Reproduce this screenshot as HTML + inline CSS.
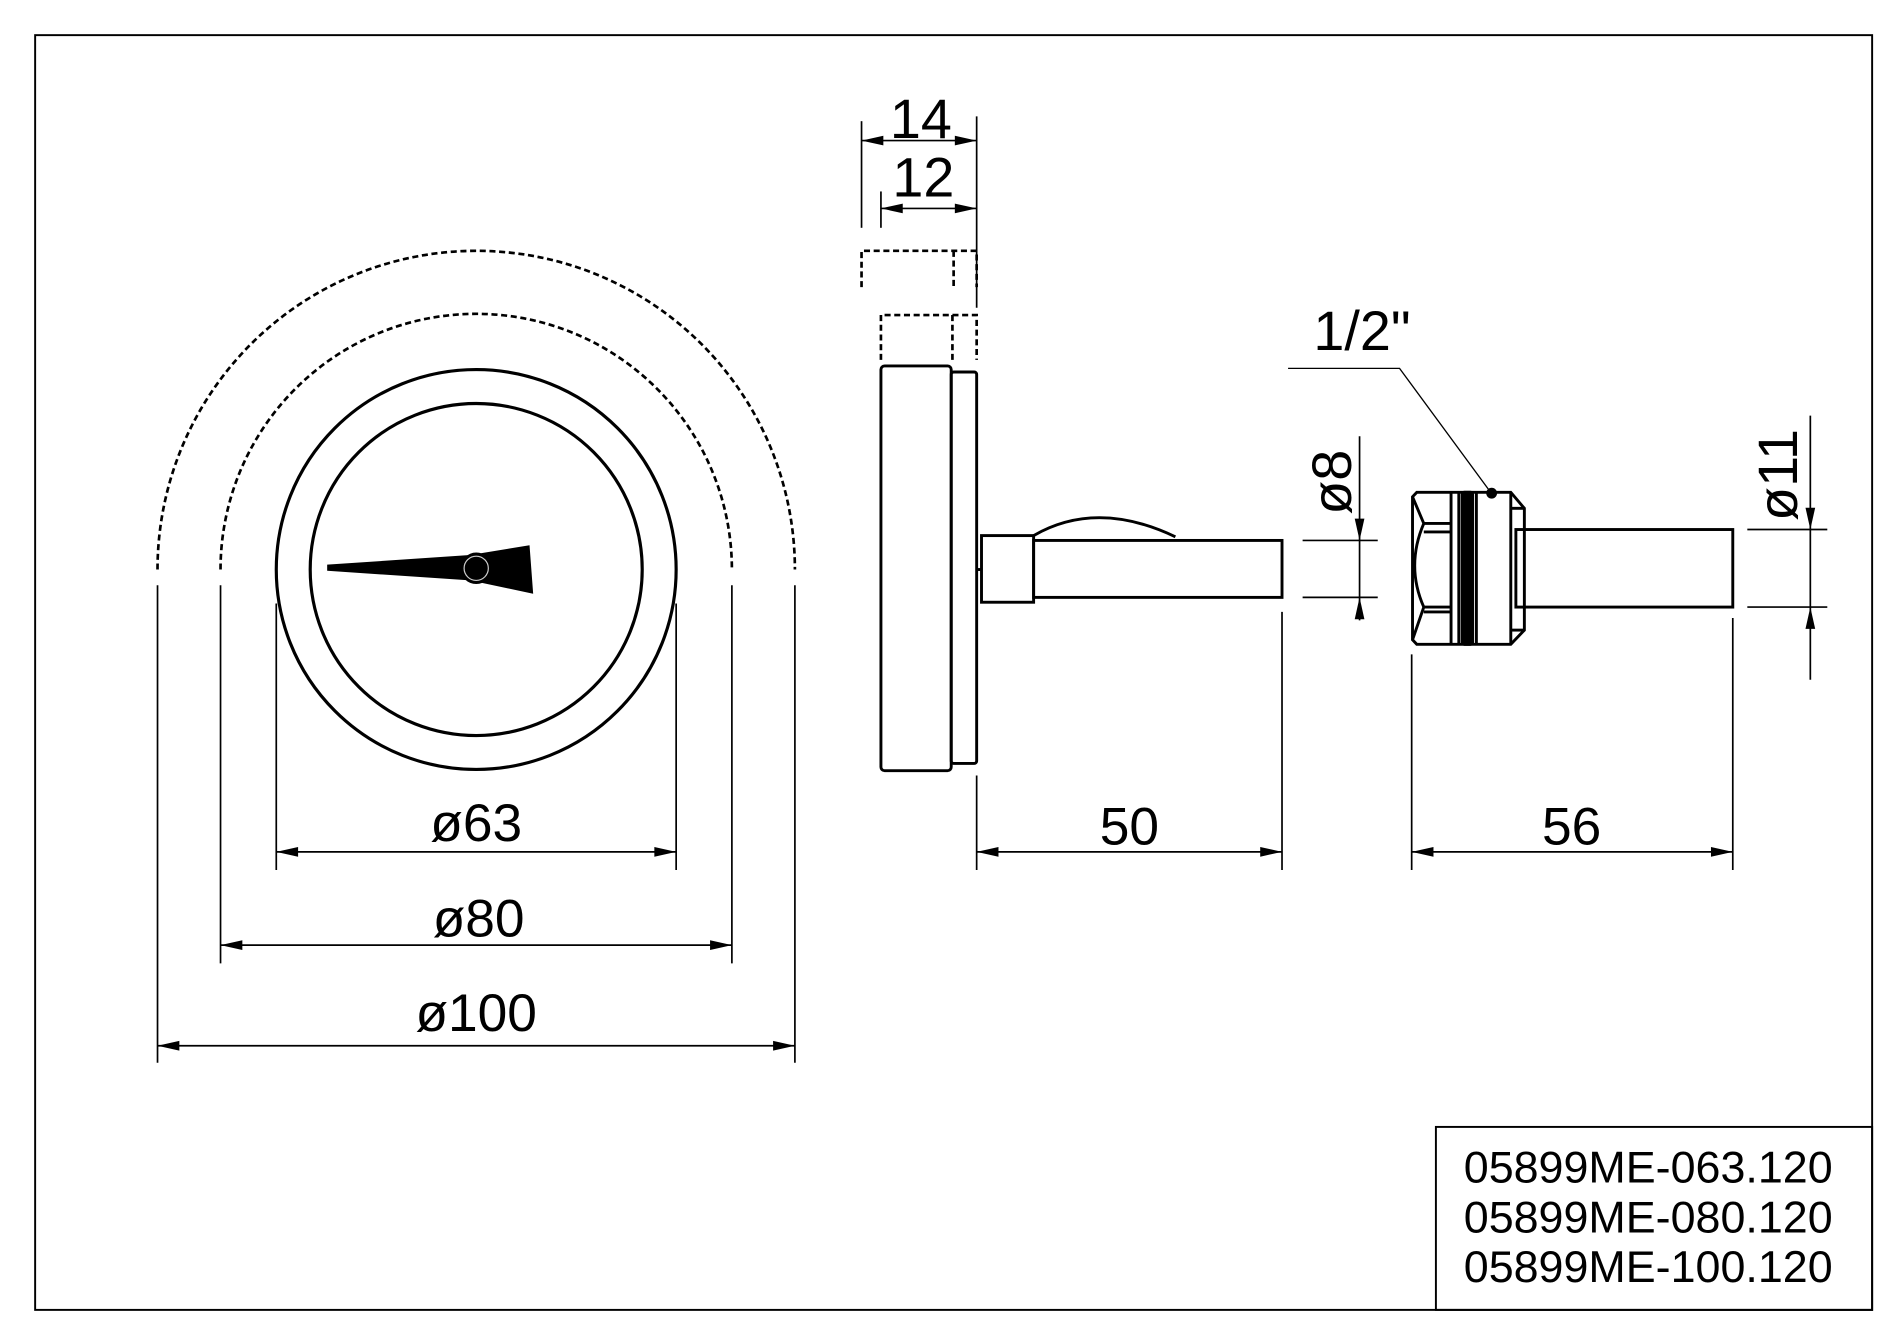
<!DOCTYPE html>
<html><head><meta charset="utf-8"><style>
html,body{margin:0;padding:0;background:#fff}
svg{display:block}
text{font-family:"Liberation Sans",Arial,sans-serif;fill:#000}
</style></head><body>
<svg width="1900" height="1342" viewBox="0 0 1568 1107.5" xmlns="http://www.w3.org/2000/svg">
<rect x="0" y="0" width="1568" height="1107.5" fill="#fff"/>
<g fill="none" stroke="#000">
<rect x="29" y="29" width="1516" height="1052" stroke-width="1.6"/>
<rect x="1185" y="930" width="360" height="151" stroke-width="1.6"/>
<circle cx="393" cy="470" r="165" stroke-width="2.6"/>
<circle cx="393" cy="470" r="137" stroke-width="2.6"/>
<path d="M182,470 A211,211 0 0 1 604,470" stroke-width="2.2" stroke-dasharray="5,3"/>
<path d="M130,470 A263,263 0 0 1 656,470" stroke-width="2.2" stroke-dasharray="5,3"/>
<g stroke-width="1.4">
<line x1="228" y1="498" x2="228" y2="718"/><line x1="558" y1="498" x2="558" y2="718"/>
<line x1="182" y1="483" x2="182" y2="795"/><line x1="604" y1="483" x2="604" y2="795"/>
<line x1="130" y1="483" x2="130" y2="877"/><line x1="656" y1="483" x2="656" y2="877"/>
<line x1="228" y1="703" x2="558" y2="703"/>
<line x1="182" y1="780" x2="604" y2="780"/>
<line x1="130" y1="863" x2="656" y2="863"/>
<line x1="711" y1="100" x2="711" y2="188"/><line x1="806" y1="96" x2="806" y2="254"/>
<line x1="727" y1="158" x2="727" y2="188"/>
<line x1="711" y1="116" x2="806" y2="116"/>
<line x1="727" y1="172" x2="806" y2="172"/>
<line x1="806" y1="640" x2="806" y2="718"/><line x1="1058" y1="505" x2="1058" y2="718"/>
<line x1="806" y1="703" x2="1058" y2="703"/>
<line x1="1165" y1="540" x2="1165" y2="718"/><line x1="1430" y1="510" x2="1430" y2="718"/>
<line x1="1165" y1="703" x2="1430" y2="703"/>
<line x1="1075" y1="446" x2="1137" y2="446"/><line x1="1075" y1="493" x2="1137" y2="493"/>
<line x1="1122" y1="360" x2="1122" y2="512"/>
<line x1="1442" y1="437" x2="1508" y2="437"/><line x1="1442" y1="501" x2="1508" y2="501"/>
<line x1="1494" y1="343" x2="1494" y2="561"/>
<polyline points="1063,304 1155,304 1230,406" stroke-width="1.1"/>
</g>
<g stroke-width="2.2" stroke-dasharray="5,3">
<polyline points="711,237 711,207 806,207 806,237"/>
<line x1="787" y1="207" x2="787" y2="237"/>
<polyline points="727,297 727,260 806,260 806,297"/>
<line x1="786" y1="260" x2="786" y2="297"/>
</g>
<g stroke-width="2.4">
<rect x="727" y="302" width="58" height="334" rx="3"/>
<rect x="785" y="307" width="21" height="323" rx="2"/>
<rect x="810" y="442" width="43" height="55"/>
<rect x="853" y="446" width="205" height="47"/>
<path d="M853,442 Q905,412 970,443"/>
<line x1="806" y1="470" x2="810" y2="470"/>
<path d="M1169.2,406.3 L1246.8,406.3 L1258,419.5 L1258,520 L1246.8,531.7 L1169.2,531.7 L1165.7,528 L1165.7,410 Z"/>
<line x1="1197.5" y1="406" x2="1197.5" y2="532"/>
<line x1="1203.9" y1="406" x2="1203.9" y2="532"/>
<line x1="1218.4" y1="406" x2="1218.4" y2="532"/>
<line x1="1246.8" y1="406" x2="1246.8" y2="532"/>
<line x1="1246.8" y1="419.5" x2="1258" y2="419.5"/>
<line x1="1246.8" y1="520" x2="1258" y2="520"/>
<path d="M1165.7,410 L1175,432 Q1160,467 1175,501 L1165.7,528"/>
<line x1="1175" y1="432" x2="1197.5" y2="432"/><line x1="1175" y1="439" x2="1197.5" y2="439"/>
<line x1="1175" y1="501" x2="1197.5" y2="501"/><line x1="1175" y1="505" x2="1197.5" y2="505"/>
<rect x="1251" y="437" width="179" height="64"/>
</g>
</g>
<rect x="1205.5" y="405" width="11" height="128" rx="3" fill="#000"/>
<circle cx="1231" cy="407" r="4.5" fill="#000"/>
<polygon points="270,466 388,458 437,450 440,490 388,479 270,471" fill="#000"/>
<circle cx="393" cy="469" r="13" fill="#000"/>
<circle cx="393" cy="469" r="10" fill="none" stroke="#ccc" stroke-width="1"/>
<g fill="#000">
<polygon points="228,703 246,699 246,707"/><polygon points="558,703 540,699 540,707"/>
<polygon points="182,780 200,776 200,784"/><polygon points="604,780 586,776 586,784"/>
<polygon points="130,863 148,859 148,867"/><polygon points="656,863 638,859 638,867"/>
<polygon points="711,116 729,112 729,120"/><polygon points="806,116 788,112 788,120"/>
<polygon points="727,172 745,168 745,176"/><polygon points="806,172 788,168 788,176"/>
<polygon points="806,703 824,699 824,707"/><polygon points="1058,703 1040,699 1040,707"/>
<polygon points="1165,703 1183,699 1183,707"/><polygon points="1430,703 1412,699 1412,707"/>
<polygon points="1122,446 1118,428 1126,428"/><polygon points="1122,493 1118,511 1126,511"/>
<polygon points="1494,437 1490,419 1498,419"/><polygon points="1494,501 1490,519 1498,519"/>
</g>
<g font-size="44" text-anchor="middle">
<text x="393" y="694">ø63</text>
<text x="395" y="773">ø80</text>
<text x="393" y="851">ø100</text>
<text x="932" y="697">50</text>
<text x="1297" y="697">56</text>
</g>
<g font-size="46" text-anchor="middle">
<text x="760" y="114">14</text>
<text x="762" y="162">12</text>
<text x="1124" y="289">1/2"</text>
<text transform="translate(1115,398) rotate(-90)">ø8</text>
<text transform="translate(1483,392) rotate(-90)">ø11</text>
</g>
<g font-size="37">
<text x="1208" y="976">05899ME-063.120</text>
<text x="1208" y="1017">05899ME-080.120</text>
<text x="1208" y="1058">05899ME-100.120</text>
</g>
</svg>
</body></html>
